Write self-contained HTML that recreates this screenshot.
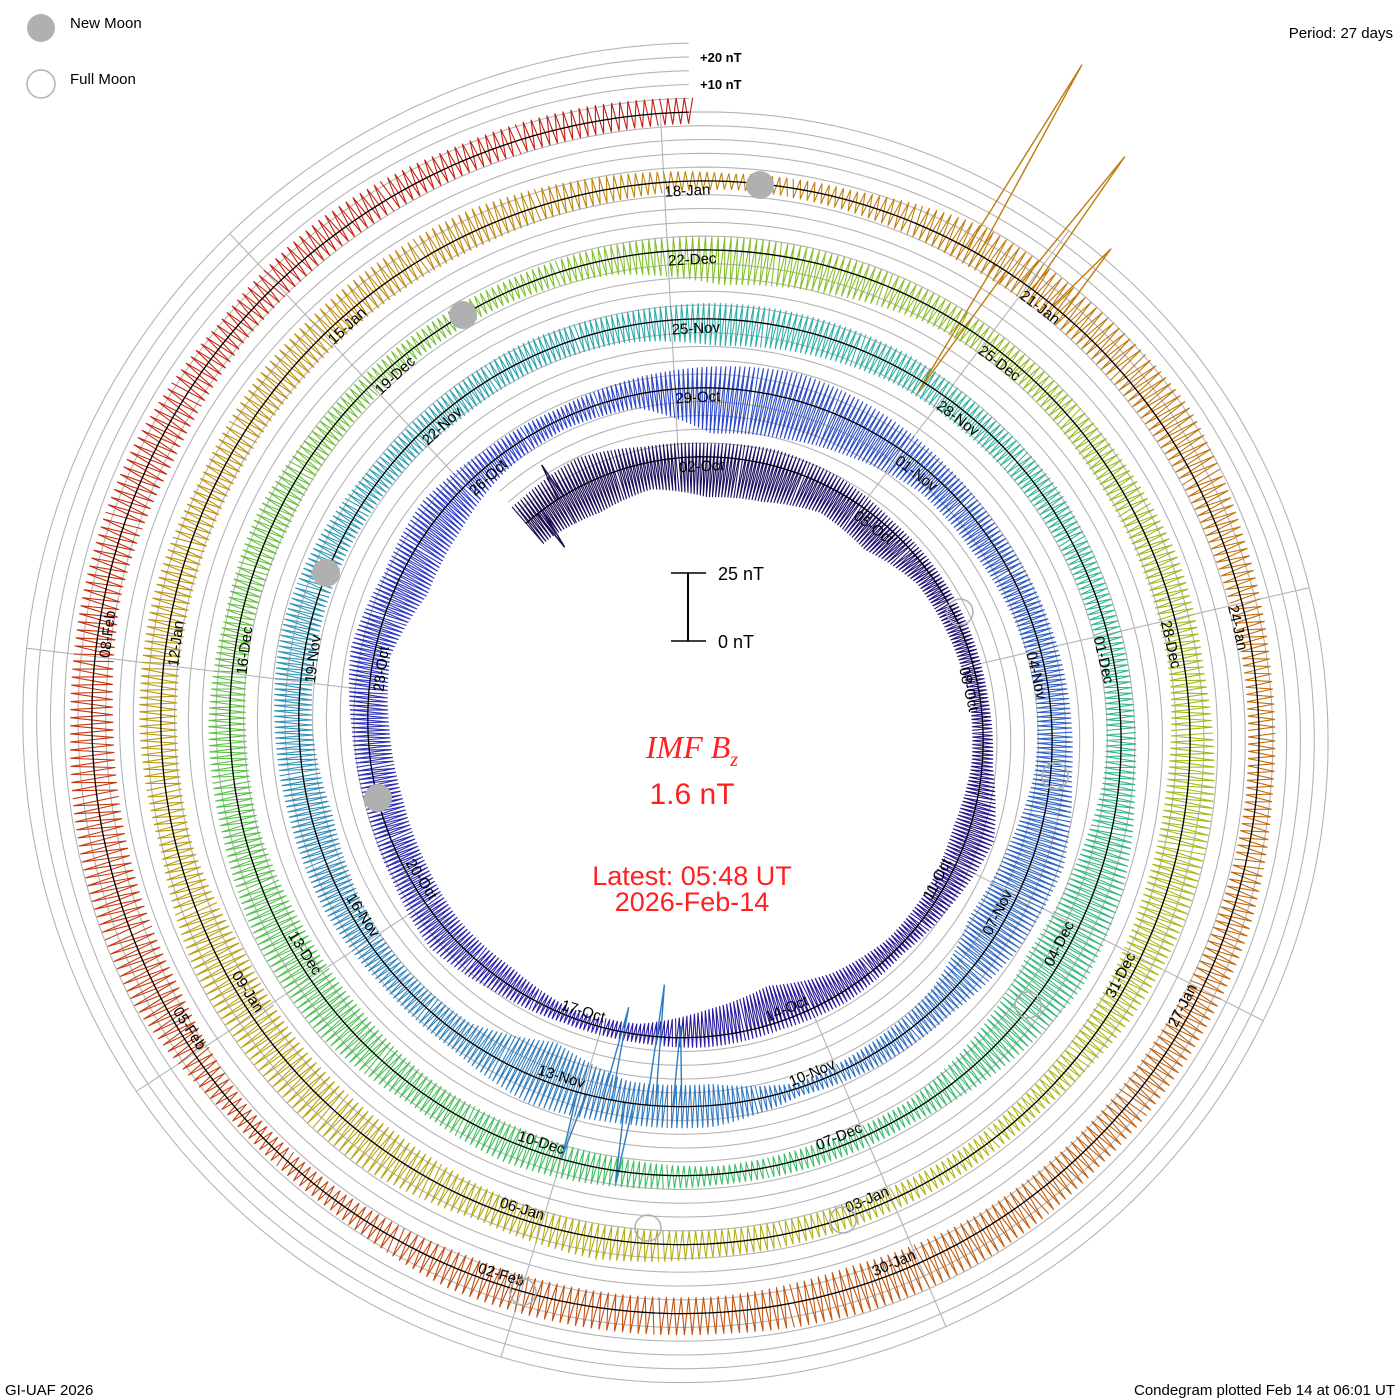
<!DOCTYPE html>
<html><head><meta charset="utf-8"><title>IMF Bz Condegram</title>
<style>
html,body{margin:0;padding:0;background:#fff;}
svg{display:block;font-family:"Liberation Sans",sans-serif;}
</style></head>
<body>
<svg id="chart" width="1400" height="1400" viewBox="0 0 1400 1400" xmlns="http://www.w3.org/2000/svg">
<rect x="0" y="0" width="1400" height="1400" fill="#fff"/>
<g id="grid"></g>
<g id="series"></g>
<g id="baseline"></g>
<g id="labels"></g>
<g id="moons"></g>

<g>
  <circle cx="41" cy="28" r="14" fill="#b0b0b0"/>
  <text x="70" y="28" font-size="15" fill="#000">New Moon</text>
  <circle cx="41" cy="84" r="14" fill="none" stroke="#b0b0b0" stroke-width="1.5"/>
  <text x="70" y="84" font-size="15" fill="#000">Full Moon</text>
</g>
<text x="1393" y="38" font-size="15" text-anchor="end">Period: 27 days</text>
<text x="700" y="62" font-size="13" font-weight="bold">+20 nT</text>
<text x="700" y="89" font-size="13" font-weight="bold">+10 nT</text>

<g>
  <line x1="688" y1="573" x2="688" y2="641" stroke="#000" stroke-width="2"/>
  <line x1="671" y1="573" x2="706" y2="573" stroke="#000" stroke-width="1.5"/>
  <line x1="671" y1="641" x2="706" y2="641" stroke="#000" stroke-width="1.5"/>
  <text x="718" y="580" font-size="18">25 nT</text>
  <text x="718" y="648" font-size="18">0 nT</text>
</g>

<text x="692" y="758" font-size="32" font-style="italic" font-family="Liberation Serif, serif" fill="#ff2020" text-anchor="middle">IMF B<tspan font-size="20" dy="8">z</tspan></text>
<text x="692" y="804" font-size="30" fill="#ff2020" text-anchor="middle">1.6 nT</text>
<text x="692" y="885" font-size="27" fill="#ff2020" text-anchor="middle">Latest: 05:48 UT</text>
<text x="692" y="911" font-size="27" fill="#ff2020" text-anchor="middle">2026-Feb-14</text>

<text x="5" y="1395" font-size="15">GI-UAF 2026</text>
<text x="1395" y="1395" font-size="15" text-anchor="end">Condegram plotted Feb 14 at 06:01 UT</text>
</svg>
<script>
// daily Bz range (nT), day index from -3 (29-Sep) to 135 (13-Feb)
const dayStart = -3;
const bzLow = [-10,-12,-10,-15,-14,-10,-12,-6,-5,-4,-4,-6,-5,-5,-8,-14,-10,-4,-3,-6,-6,-8,-9,-8,-6,-12,-10,-6,-4,-5,
 -17,-15,-12,-8,-8,-6,-5,-6,-10,-12,-6,-4,-2,-8,-8,-15,-6,-5,-6,-8,-5,-4,-4,-5,-6,-5,-6,
 -10,-8,-6,-6,-5,-5,-5,-6,-10,-12,-8,-4,-4,-3,-5,-6,-6,-8,-8,-6,-6,-5,-6,-5,-4,-4,-6,
 -13,-10,-6,-5,-6,-6,-6,-8,-8,-6,-5,-4,-5,-5,-5,-6,-8,-8,-10,-6,-6,-6,-6,-6,-6,-6,-5,
 -3,-4,-6,-5,-5,-5,-4,-4,-5,-6,-6,-6,-8,-6,-6,-6,-4,-4,-8,-8,-8,-6,-8,-6,-5,-5,-5,-4];
const bzHigh = [8,10,6,5,6,5,3,3,3,3,4,10,6,3,4,3,4,3,3,5,9,6,5,6,9,6,8,5,4,6,
 8,10,8,6,5,6,7,8,12,10,6,5,3,8,8,10,6,6,8,8,9,10,8,5,5,6,5,
 6,6,6,5,6,5,5,6,10,12,8,4,4,4,6,8,6,10,10,8,8,6,7,5,4,4,5,
 5,5,5,5,6,8,7,10,10,8,4,4,4,5,8,6,10,10,10,6,8,8,6,8,8,8,5,
 3,4,10,10,12,8,6,6,8,8,8,10,10,8,8,8,4,4,10,10,8,8,8,6,8,6,6,5];
// isolated extreme excursions: time (days from 02-Oct) and value (nT)
const spikeTimes = [-2.4,-2.0,40.9,41.2,41.45,41.7,42.0,110.5,110.75,111.0,111.3];
const spikeValues = [-16,14,-30,-45,30,-35,25,80,-55,60,30];
const tStart = -2.7, tEnd = 135.24;
const labelCount = 44;
const newMoonPos = [[760,185],[463,315],[326,573],[378,798]];
const fullMoonPos = [[960,612],[1055,776],[1028,1005],[843,1220],[648,1228],[523,1292]];

const NS='http://www.w3.org/2000/svg';
const cx=692.7, cy=730, R0=273, D=69, PX=2.7;
function rad(t){return R0 + D*(t-0.225)/27;}
function ang(t){return (t/27*360 - 3)*Math.PI/180;}
function pt(t,off){const r=rad(t)+off, a=ang(t);return [cx+r*Math.sin(a), cy-r*Math.cos(a)];}
function mk(tag,attrs){const e=document.createElementNS(NS,tag);for(const k in attrs)e.setAttribute(k,attrs[k]);return e;}
function spiralPath(off){let s='';for(let t=tStart;t<=tEnd+1e-6;t+=0.1){const p=pt(Math.min(t,tEnd),off);s+=(s?'L':'M')+p[0].toFixed(1)+' '+p[1].toFixed(1);}return s;}

const grid=document.getElementById('grid');
for(let k=1;k<=5;k++){
  const e=mk('path',{d:spiralPath(k*13.8),fill:'none',stroke:'#b4b4b4','stroke-width':1.1});
  
  
  grid.appendChild(e);
}
for(let k=0;k<9;k++){
  const a=(k*40-3)*Math.PI/180;
  let tFirst=k*3, tLast=k*3+108; if(tLast>tEnd) tLast-=27;
  const r1=rad(tFirst), r2=rad(tLast)+D;
  const e=mk('line',{x1:cx+r1*Math.sin(a),y1:cy-r1*Math.cos(a),x2:cx+r2*Math.sin(a),y2:cy-r2*Math.cos(a),stroke:'#b4b4b4','stroke-width':1.1});
  
  
  grid.appendChild(e);
}

const stops=[[0,[28,12,80]],[0.12,[42,26,160]],[0.2,[47,64,200]],[0.33,[48,128,192]],[0.42,[48,176,168]],[0.52,[64,192,96]],[0.6,[128,192,48]],[0.68,[176,184,24]],[0.78,[192,144,16]],[0.88,[192,96,16]],[1,[200,24,16]]];
function color(t){const f=(t-tStart)/(tEnd-tStart);for(let i=1;i<stops.length;i++){if(f<=stops[i][0]){const a=stops[i-1],b=stops[i],u=(f-a[0])/(b[0]-a[0]);const c=a[1].map((v,j)=>Math.round(v+(b[1][j]-v)*u));return 'rgb('+c.join(',')+')';}}return 'rgb(200,24,16)';}
function val(arr,t){const x=t-dayStart-0.5;let i=Math.floor(x);if(i<0)return arr[0];if(i>=arr.length-1)return arr[arr.length-1];const u=x-i;return arr[i]*(1-u)+arr[i+1]*u;}

const series=document.getElementById('series');
const STEP=0.028;
for(let d=0; d<bzLow.length; d++){
  const t0=Math.max(tStart,dayStart+d), t1=Math.min(tEnd,dayStart+d+1);
  if(t1<=t0) continue;
  let s='', n=0;
  for(let t=t0;t<=t1+1e-6;t+=STEP){
    const tt=Math.min(t,t1);
    const v=(n%2===0)?val(bzHigh,tt):val(bzLow,tt);
    const p=pt(tt,v*PX);
    s+=(s?'L':'M')+p[0].toFixed(1)+' '+p[1].toFixed(1);
    n++;
  }
  const c=color((t0+t1)/2);
  const e=mk('path',{d:s,fill:'none',stroke:c,'stroke-width':1.1,'stroke-linejoin':'bevel'});
  
  
  series.appendChild(e);
}
spikeTimes.forEach((t,i)=>{
  const a=pt(t-0.05,0), b=pt(t,spikeValues[i]*PX), c=pt(t+0.05,0);
  const e=mk('path',{d:'M'+a.join(' ')+'L'+b.join(' ')+'L'+c.join(' '),fill:'none',stroke:color(t),'stroke-width':1.4});
  
  
  series.appendChild(e);
});

const bl=mk('path',{d:spiralPath(0),fill:'none',stroke:'#000','stroke-width':1.3});


document.getElementById('baseline').appendChild(bl);

const months=['Jan','Feb','Mar','Apr','May','Jun','Jul','Aug','Sep','Oct','Nov','Dec'];
const labels=document.getElementById('labels');
const base=Date.UTC(2025,9,2);
for(let i=0;i<labelCount;i++){
  const t=3*i, dt=new Date(base+t*86400000);
  const txt=String(dt.getUTCDate()).padStart(2,'0')+'-'+months[dt.getUTCMonth()];
  let deg=((t/27*360-3)%360+360)%360;
  const a=deg*Math.PI/180;
  const flip=deg>90&&deg<270;
  const r=rad(t)-(flip?5:4);
  const x=cx+r*Math.sin(a), y=cy-r*Math.cos(a);
  const rot=flip?deg-180:deg;
  const e=mk('text',{x:x,y:y,'font-size':15,fill:'#000','text-anchor':flip?'end':'start','dominant-baseline':flip?'auto':'hanging',transform:'rotate('+rot.toFixed(1)+' '+x.toFixed(1)+' '+y.toFixed(1)+')'});
  e.textContent=txt;
  
  
  labels.appendChild(e);
}

const moons=document.getElementById('moons');
newMoonPos.forEach((p,i)=>{
  const e=mk('circle',{cx:p[0],cy:p[1],r:14,fill:'#b0b0b0'});
  
  
  moons.appendChild(e);
});
fullMoonPos.forEach((p,i)=>{
  const e=mk('circle',{cx:p[0],cy:p[1],r:13,fill:'none',stroke:'#b0b0b0','stroke-width':1.5});
  
  
  moons.appendChild(e);
});
</script>
</body></html>
